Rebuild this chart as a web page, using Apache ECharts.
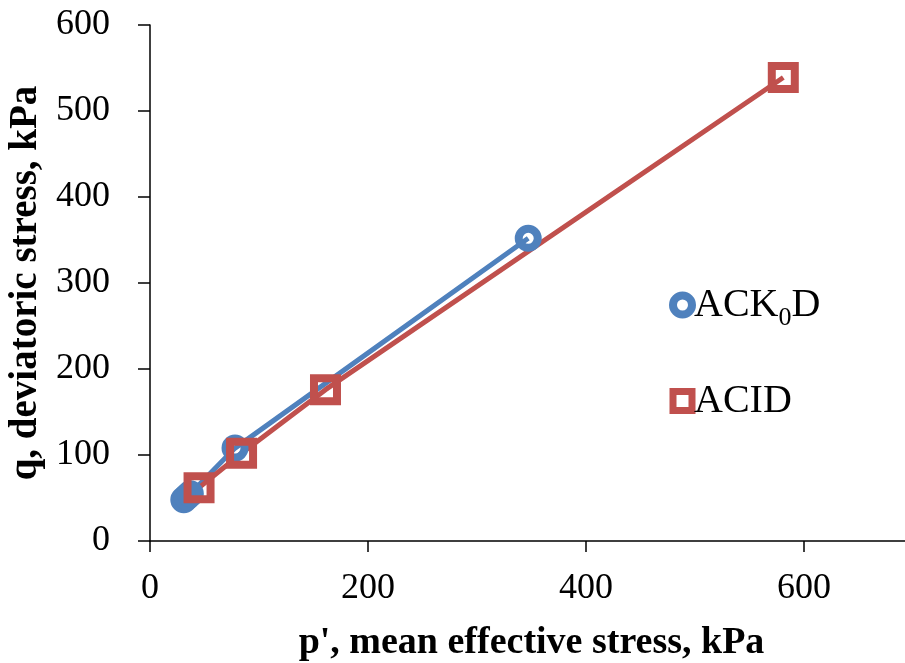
<!DOCTYPE html>
<html>
<head>
<meta charset="utf-8">
<script src="https://cdn.jsdelivr.net/npm/echarts@6/dist/echarts.min.js"></script>
<style>
    html, body { margin: 0; padding: 0; background: #fff; }
    #chart { width: 905px; height: 663px; }
</style>
</head>
<body>
<div id="chart"></div>
<script>
// data (p' and q in kPa)
const ack0dP = [31, 34, 37, 78, 347];
const ack0dQ = [48, 51.5, 55, 108, 352];
const acidP = [45, 84, 161, 581];
const acidQ = [62, 102, 176, 539];
const seriesNames = ['ACK0D', 'ACID'];

const blue = '#4F81BD';
const red = '#C0504D';
const serif = 'Liberation Serif';

const pairs = (xs, ys) => xs.map((x, i) => [x, ys[i]]);

const chart = echarts.init(document.getElementById('chart'));

const option = {
    animation: false,
    backgroundColor: '#fff',
    grid: {
        left: 150,
        top: 25,
        right: -8,
        bottom: 122,
        outerBoundsMode: 'none'
    },
    legend: {
        orient: 'vertical',
        left: 664,
        top: 280,
        itemWidth: 19,
        itemHeight: 19,
        itemGap: 50,
        data: [
            { name: seriesNames[0], icon: 'circle', itemStyle: { color: 'rgba(0,0,0,0)', borderColor: blue, borderWidth: 8 } },
            { name: seriesNames[1], icon: 'rect', itemStyle: { color: 'rgba(0,0,0,0)', borderColor: red, borderWidth: 7 } }
        ],
        formatter: name => name === 'ACK0D' ? '{n|ACK}{s|0}{n|D}' : '{n|' + name + '}',
        textStyle: {
            padding: [0, 0, 0, -3],
            rich: {
                n: { fontFamily: serif, fontSize: 40, color: '#000' },
                s: { fontFamily: serif, fontSize: 26, color: '#000', padding: [26, 0, 0, 0] }
            }
        }
    },
    xAxis: {
        type: 'value',
        min: 0,
        max: 700,
        interval: 200,
        name: "p', mean effective stress, kPa",
        nameLocation: 'middle',
        nameGap: 83,
        nameTextStyle: { fontFamily: serif, fontSize: 38, fontWeight: 'bold', color: '#000' },
        axisLine: { lineStyle: { color: '#000', width: 1.5 } },
        axisTick: { show: true, length: 11, lineStyle: { color: '#000', width: 1.5 } },
        axisLabel: { fontFamily: serif, fontSize: 36, color: '#000', margin: 30, showMaxLabel: false },
        splitLine: { show: false }
    },
    yAxis: {
        type: 'value',
        min: 0,
        max: 600,
        interval: 100,
        name: 'q, deviatoric stress, kPa',
        nameLocation: 'middle',
        nameGap: 103,
        nameRotate: 90,
        nameTextStyle: { fontFamily: serif, fontSize: 39, fontWeight: 'bold', color: '#000' },
        axisLine: { show: true, lineStyle: { color: '#000', width: 1.5 } },
        axisTick: { show: true, length: 12, lineStyle: { color: '#000', width: 1.5 } },
        axisLabel: { fontFamily: serif, fontSize: 36, color: '#000', margin: 40 },
        splitLine: { show: false }
    },
    series: [
        {
            name: seriesNames[0],
            type: 'line',
            data: pairs(ack0dP, ack0dQ),
            symbol: 'circle',
            symbolSize: 19,
            itemStyle: { color: 'rgba(0,0,0,0)', borderColor: blue, borderWidth: 8 },
            lineStyle: { color: blue, width: 5 }
        },
        {
            name: seriesNames[1],
            type: 'line',
            data: pairs(acidP, acidQ),
            symbol: 'rect',
            symbolSize: 23,
            itemStyle: { color: 'rgba(0,0,0,0)', borderColor: red, borderWidth: 8 },
            lineStyle: { color: red, width: 5 }
        }
    ]
};

chart.setOption(option);
</script>
</body>
</html>
